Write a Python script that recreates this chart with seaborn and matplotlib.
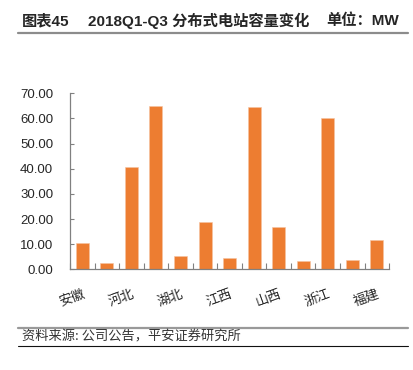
import numpy as np
import pandas as pd
import matplotlib
matplotlib.use('Agg')
import matplotlib.pyplot as plt
import seaborn as sns
from matplotlib.lines import Line2D

# 13 provinces, only every other one is labelled in the source chart
provinces = ['安徽', '', '河北', '', '湖北', '', '江西', '', '山西', '', '浙江', '', '福建']
capacity = [10.6, 2.6, 40.8, 65.0, 5.3, 18.8, 4.6, 64.4, 16.7, 3.4, 60.3, 3.7, 11.5]
yticks = [0, 10, 20, 30, 40, 50, 60, 70]

title_left = '图表45'
title_mid = '2018Q1-Q3 分布式电站容量变化'
title_right = '单位：MW'
source = '资料来源: 公司公告，平安证券研究所'

sns.set_style('ticks')
plt.rcParams['font.family'] = ['Noto Sans CJK SC', 'DejaVu Sans']
plt.rcParams['axes.unicode_minus'] = False
latin_first = ['Liberation Sans', 'Noto Sans CJK SC']

df = pd.DataFrame({'pos': [str(i) for i in range(len(capacity))], 'value': capacity})

fig = plt.figure(figsize=(4.14, 3.70), dpi=100)
ax = fig.add_axes([0.169, 0.272, 0.771, 0.476])

sns.barplot(data=df, x='pos', y='value', color='#ED7D31', saturation=1,
            width=0.53, ax=ax, edgecolor='#F6C3A0', linewidth=0.4)

ax.set_xlim(-0.5, len(capacity) - 0.5)
ax.set_ylim(0, 70)
ax.set_yticks(yticks)
ax.set_yticklabels([f'{v:.2f}' for v in yticks], fontsize=9.5, family='Liberation Sans')
ax.set_xticks(range(len(capacity)))
ax.set_xticklabels(provinces, rotation=20, ha='right', rotation_mode='anchor', fontsize=9.5)
ax.set_xticks(np.arange(-0.5, len(capacity), 1), minor=True)
ax.tick_params(axis='x', which='major', length=0, pad=13)
ax.tick_params(axis='x', which='minor', direction='in', length=4, color='#808080', width=0.8)
ax.tick_params(axis='y', direction='in', length=3, color='#808080', width=0.8, pad=12)
ax.set_xlabel('')
ax.set_ylabel('')
sns.despine(ax=ax)
for s in ['left', 'bottom']:
    ax.spines[s].set_color('#808080')
    ax.spines[s].set_linewidth(0.9)

# title block
fig.text(22 / 414, 1 - 21 / 370, title_left, fontsize=11, fontweight='bold', va='center', family=latin_first)
fig.text(88 / 414, 1 - 21 / 370, title_mid, fontsize=11, fontweight='bold', va='center', family=latin_first)
fig.text(326 / 414, 1 - 21 / 370, title_right, fontsize=11, fontweight='bold', va='center', family=latin_first)
fig.add_artist(Line2D([18 / 414, 408 / 414], [1 - 33 / 370, 1 - 33 / 370],
                      color='#8c8c8c', linewidth=1.6, transform=fig.transFigure))

# source block
fig.add_artist(Line2D([18 / 414, 408 / 414], [1 - 327.5 / 370, 1 - 327.5 / 370],
                      color='#999999', linewidth=1.6, transform=fig.transFigure))
fig.text(22 / 414, 1 - 337 / 370, source, fontsize=9.5, style='italic', color='#333333', va='center')
fig.add_artist(Line2D([18 / 414, 408 / 414], [1 - 346 / 370, 1 - 346 / 370],
                      color='#111111', linewidth=0.8, transform=fig.transFigure))

fig.savefig('out.png', dpi=100)
